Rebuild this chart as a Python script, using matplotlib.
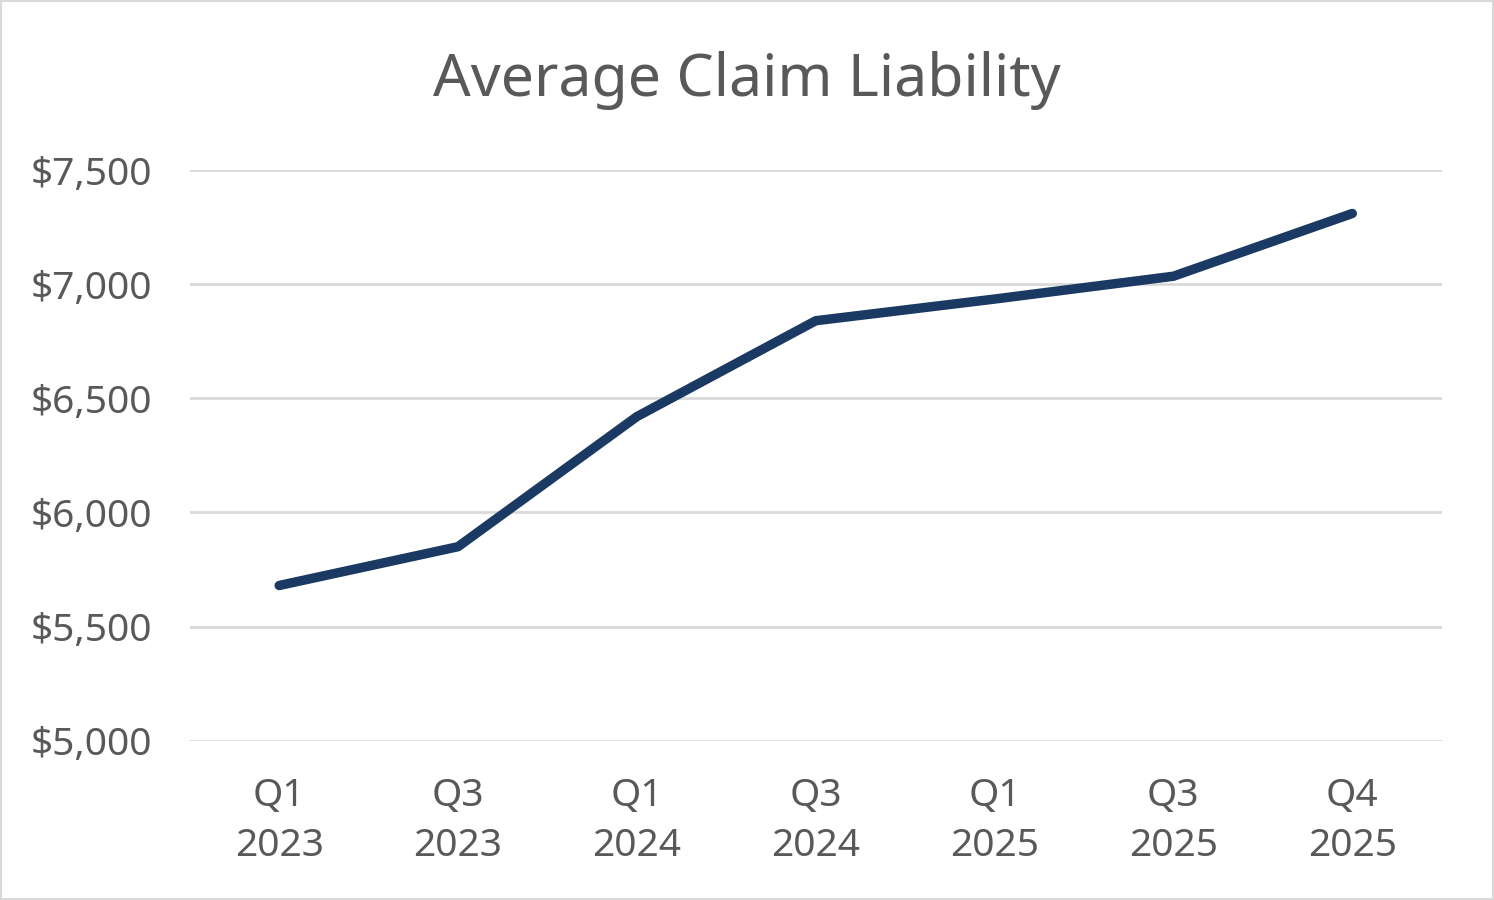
import matplotlib
matplotlib.use("Agg")
import matplotlib.pyplot as plt
from matplotlib.ticker import FuncFormatter

plt.rcParams['font.family'] = ['Noto Sans', 'DejaVu Sans']

quarters = ["Q1\n2023", "Q3\n2023", "Q1\n2024", "Q3\n2024", "Q1\n2025", "Q3\n2025", "Q4\n2025"]
avg_liability = [5680, 5850, 6420, 6840, 6935, 7035, 7310]

text_grey = "#595959"
line_col = "#1b3a63"

fig = plt.figure(figsize=(14.94, 9), dpi=100)
ax = fig.add_axes([0.127, 0.177, 0.838, 0.634])

x = range(len(quarters))
ax.plot(x, avg_liability, color=line_col, linewidth=6.8, solid_capstyle="round", solid_joinstyle="round")

ax.set_xlim(-0.5, len(quarters) - 0.5)
ax.set_ylim(5000, 7500)
ax.set_yticks([5000, 5500, 6000, 6500, 7000, 7500])
ax.yaxis.set_major_formatter(FuncFormatter(lambda v, p: "${:,.0f}".format(v)))
ax.set_xticks(list(x))
ax.set_xticklabels(quarters, linespacing=1.42)

ax.grid(axis="y", color="#d9d9d9", linewidth=2)
ax.set_axisbelow(True)
for s in ax.spines.values():
    s.set_visible(False)
ax.tick_params(length=0, labelsize=28, colors=text_grey)
ax.tick_params(axis="y", pad=27)
ax.tick_params(axis="x", pad=26)

fig.text(0.5, 0.911, "Average Claim Liability", ha="center", va="center", fontsize=42.5, color=text_grey)

# light border round the chart
fig.patches.append(plt.Rectangle((0.001, 0.001), 0.998, 0.998, transform=fig.transFigure,
                                 fill=False, edgecolor="#d9d9d9", linewidth=1.5))

fig.savefig("out.png", dpi=100, facecolor="white")
